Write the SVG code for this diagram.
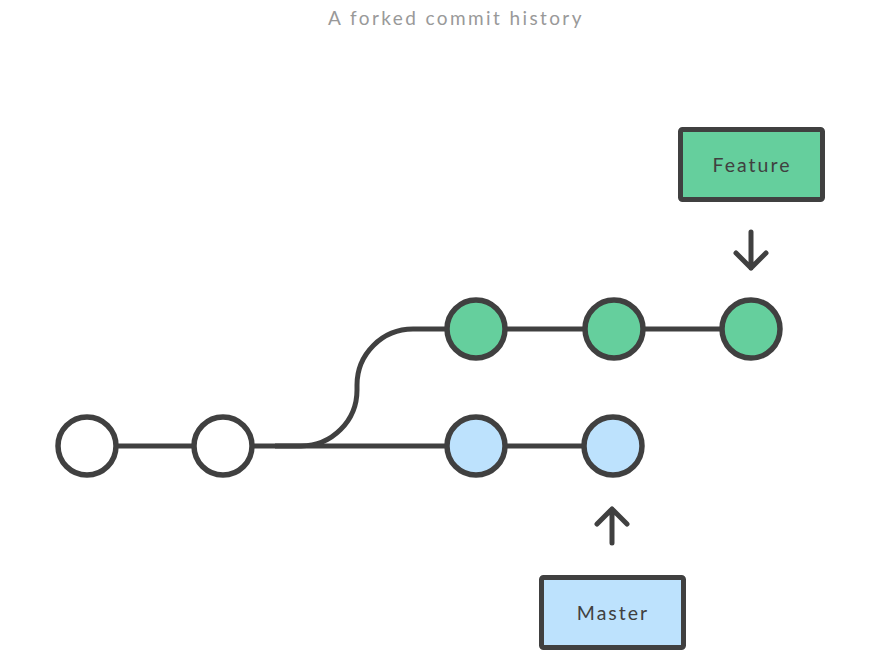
<svg xmlns="http://www.w3.org/2000/svg" width="871" height="659" viewBox="0 0 871 659">
<style>
.edge{fill:none;stroke:#404040;stroke-width:5;}
.c{stroke:#404040;stroke-width:5.5;}
.white{fill:#ffffff;}
.green{fill:#65cf9d;}
.blue{fill:#bde2fd;}
.box{stroke:#404040;stroke-width:5;}
.lbl{font-family:"Lato","Open Sans",sans-serif;font-size:19.5px;fill:#404040;text-anchor:middle;letter-spacing:2px;}
.title{font-family:"Lato","Open Sans",sans-serif;font-size:19px;fill:#999999;text-anchor:middle;letter-spacing:2.4px;}
.arrow{fill:none;stroke:#404040;stroke-width:5;stroke-linecap:round;stroke-linejoin:round;}
</style>
<rect width="871" height="659" fill="#ffffff"/>
<text class="title" x="456" y="25">A forked commit history</text>
<g id="connectors">
<line class="edge" x1="87" y1="446" x2="223" y2="446"/>
<line class="edge" x1="223" y1="446" x2="476" y2="446"/>
<line class="edge" x1="476" y1="446" x2="613" y2="446"/>
<path class="edge" d="M275,446 H301 A56,56 0 0 0 357,390 V385 A56,56 0 0 1 413,329 H476"/>
<line class="edge" x1="476" y1="329" x2="751" y2="329"/>
<path id="feature-arrow" class="arrow" d="M751,232 V268 M736,253 L751,268 L766,253"/>
<path id="master-arrow" class="arrow" d="M612,543 V509 M597,524 L612,509 L627,524"/>
</g>
<g id="c1"><circle class="c white" cx="87" cy="446" r="29"/></g>
<g id="c2"><circle class="c white" cx="223" cy="446" r="29"/></g>
<g id="m1"><circle class="c blue" cx="476" cy="446" r="29"/></g>
<g id="m2"><circle class="c blue" cx="613" cy="446" r="29"/></g>
<g id="f1"><circle class="c green" cx="476" cy="329" r="29"/></g>
<g id="f2"><circle class="c green" cx="614" cy="329" r="29"/></g>
<g id="f3"><circle class="c green" cx="751" cy="329" r="29"/></g>
<g id="feature"><rect class="box green" x="680.5" y="129.5" width="142" height="70" rx="2"/><text class="lbl" x="752" y="172">Feature</text></g>
<g id="master"><rect class="box blue" x="541.5" y="577.5" width="142" height="70" rx="2"/><text class="lbl" x="613" y="620">Master</text></g>
</svg>
